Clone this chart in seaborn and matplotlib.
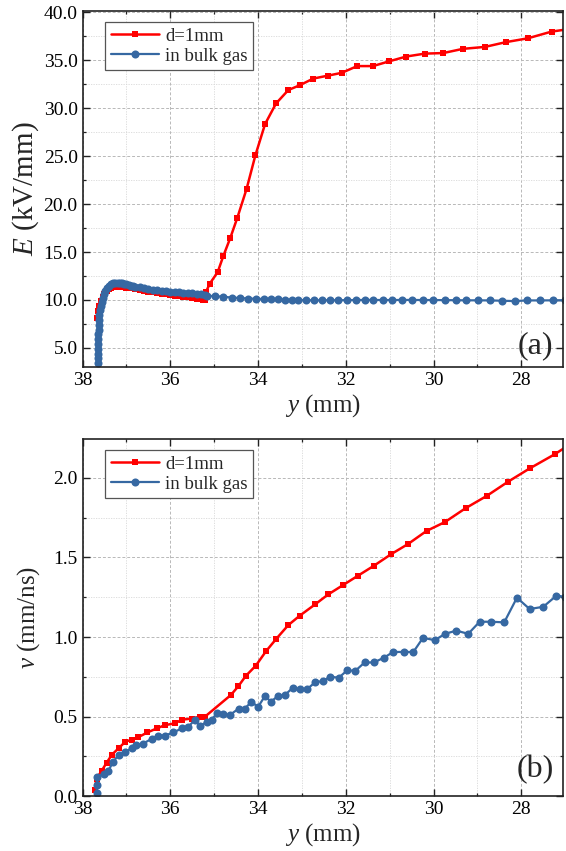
import matplotlib
matplotlib.use("Agg")
import matplotlib.pyplot as plt
import seaborn as sns
import numpy as np
from matplotlib.ticker import MultipleLocator, FormatStrFormatter

# ---------------- data (a): electric field ----------------
a_red_y = [37.68, 37.65, 37.62, 37.58, 37.54, 37.50, 37.45, 37.40, 37.35, 37.30,
           37.25, 37.20, 37.15, 37.10, 37.00, 36.90, 36.80, 36.70, 36.60, 36.50,
           36.40, 36.30, 36.20, 36.10, 36.00, 35.90, 35.80, 35.70, 35.60, 35.50,
           35.40, 35.30, 35.25, 35.22,
           35.19, 35.10, 34.92, 34.79, 34.63, 34.47, 34.26, 34.06, 33.84, 33.59,
           33.31, 33.05, 32.74, 32.41, 32.09, 31.74, 31.38, 31.01, 30.62, 30.20,
           29.78, 29.33, 28.83, 28.35, 27.85, 27.31, 26.85]
a_red_E = [8.1, 8.8, 9.4, 9.9, 10.3, 10.6, 10.9, 11.1, 11.25, 11.35,
           11.4, 11.42, 11.4, 11.36, 11.28, 11.2, 11.12, 11.04, 10.96, 10.88,
           10.8, 10.72, 10.65, 10.58, 10.52, 10.46, 10.4, 10.34, 10.28, 10.22,
           10.15, 10.08, 10.02, 9.95,
           10.8, 11.7, 12.9, 14.6, 16.5, 18.6, 21.6, 25.1, 28.35, 30.5,
           31.9, 32.4, 33.1, 33.4, 33.7, 34.4, 34.4, 34.9, 35.4, 35.7,
           35.76, 36.2, 36.4, 36.9, 37.3, 38.0, 38.3]

a_blue_y = [37.645, 37.645, 37.645, 37.643, 37.642, 37.64, 37.638, 37.635, 37.63, 37.625,
            37.615, 37.60, 37.585, 37.565, 37.54, 37.51, 37.48, 37.44, 37.40, 37.35,
            37.30, 37.25, 37.20, 37.15, 37.10, 37.05, 37.00, 36.95, 36.90, 36.85,
            36.80, 36.70, 36.60, 36.50, 36.40, 36.30, 36.20, 36.10, 36.00, 35.90,
            35.80, 35.70, 35.60, 35.50, 35.40, 35.30, 35.20,
            35.17, 34.98, 34.79, 34.60, 34.41, 34.22, 34.05, 33.87, 33.71, 33.55,
            33.39, 33.23, 33.08, 32.91, 32.73, 32.55, 32.36, 32.17, 31.98, 31.77,
            31.56, 31.38, 31.16, 30.94, 30.73, 30.48, 30.25, 30.01, 29.74, 29.48,
            29.25, 28.98, 28.72, 28.45, 28.15, 27.88, 27.58, 27.27, 27.01]
a_blue_E = [3.4, 3.9, 4.4, 4.9, 5.4, 5.9, 6.4, 6.9, 7.4, 7.9,
            8.4, 8.9, 9.35, 9.8, 10.2, 10.6, 10.9, 11.2, 11.45, 11.62,
            11.73, 11.78, 11.8, 11.78, 11.74, 11.68, 11.62, 11.56, 11.5, 11.45,
            11.4, 11.3, 11.22, 11.15, 11.08, 11.03, 10.98, 10.93, 10.88, 10.84,
            10.8, 10.76, 10.72, 10.68, 10.64, 10.6, 10.56,
            10.43, 10.4, 10.33, 10.25, 10.2, 10.15, 10.12, 10.1, 10.08, 10.05,
            10.02, 10.0, 9.98, 9.97, 9.96, 9.96, 9.97, 9.97, 9.98, 9.99,
            10.0, 10.0, 9.99, 9.99, 10.0, 10.0, 9.99, 9.99, 9.98, 9.97,
            9.96, 9.96, 9.95, 9.92, 9.88, 9.95, 9.95, 9.96, 9.97]

# ---------------- data (b): velocity ----------------
b_red_y = [37.72, 37.68, 37.56, 37.45, 37.33, 37.18, 37.03, 36.88, 36.73, 36.52,
           36.31, 36.12, 35.89, 35.74, 35.51, 35.32, 35.21,
           34.62, 34.45, 34.28, 34.05, 33.82, 33.58, 33.31, 33.05, 32.70, 32.40,
           32.06, 31.72, 31.36, 30.96, 30.58, 30.16, 29.74, 29.27, 28.79, 28.30,
           27.81, 27.24, 26.90]
b_red_v = [0.04, 0.11, 0.16, 0.21, 0.26, 0.30, 0.34, 0.355, 0.37, 0.40,
           0.425, 0.446, 0.457, 0.48, 0.487, 0.50, 0.499,
           0.635, 0.69, 0.755, 0.82, 0.91, 0.99, 1.075, 1.134, 1.205, 1.268,
           1.327, 1.386, 1.448, 1.522, 1.585, 1.667, 1.723, 1.81, 1.887, 1.977,
           2.06, 2.149, 2.21]

b_blue_y = [37.68, 37.67, 37.66, 37.52, 37.41, 37.30, 37.18, 37.03, 36.88, 36.77,
            36.62, 36.42, 36.27, 36.12, 35.93, 35.74, 35.59, 35.44, 35.32, 35.17,
            35.06, 34.94, 34.79, 34.64, 34.44, 34.30, 34.15, 34.00, 33.84, 33.71,
            33.54, 33.39, 33.21, 33.05, 32.89, 32.70, 32.53, 32.35, 32.16, 31.97,
            31.78, 31.57, 31.36, 31.13, 30.92, 30.68, 30.46, 30.24, 29.97, 29.74,
            29.48, 29.21, 28.95, 28.68, 28.39, 28.10, 27.81, 27.50, 27.20, 27.00]
b_blue_v = [0.02, 0.07, 0.12, 0.14, 0.16, 0.216, 0.258, 0.278, 0.30, 0.32,
            0.33, 0.36, 0.38, 0.38, 0.40, 0.425, 0.436, 0.478, 0.44, 0.467,
            0.478, 0.52, 0.516, 0.51, 0.55, 0.55, 0.593, 0.56, 0.63, 0.593,
            0.63, 0.635, 0.68, 0.67, 0.67, 0.715, 0.723, 0.75, 0.744, 0.79,
            0.788, 0.84, 0.84, 0.87, 0.906, 0.906, 0.906, 0.995, 0.98, 1.02,
            1.04, 1.02, 1.096, 1.096, 1.092, 1.247, 1.176, 1.19, 1.26, 1.253]

series_labels = ["d=1mm", "in bulk gas"]
x_ticks = [38, 36, 34, 32, 30, 28]

RED = "#FF0000"
BLUE = "#3668A2"

sns.set_style("ticks")
plt.rcParams["font.family"] = "Liberation Serif"
plt.rcParams["mathtext.fontset"] = "custom"
plt.rcParams["mathtext.it"] = "Liberation Serif:italic"
plt.rcParams["mathtext.rm"] = "Liberation Serif"

fig = plt.figure(figsize=(5.66, 8.51), dpi=100)
ax1 = fig.add_axes([0.1458, 0.5687, 0.8489, 0.4184])
ax2 = fig.add_axes([0.1458, 0.0646, 0.8489, 0.4195])


def style_axis(ax):
    ax.set_xlim(38.0, 27.05)
    ax.set_xticks(x_ticks)
    ax.xaxis.set_minor_locator(MultipleLocator(1))
    ax.grid(True, which="major", color="#b8b8b8", linestyle=(0, (3, 2)), linewidth=0.7)
    ax.grid(True, which="minor", color="#d8d8d8", linestyle=(0, (1.5, 1.5)), linewidth=0.6)
    ax.set_axisbelow(True)
    ax.tick_params(which="both", direction="in", top=True, right=True,
                   colors="#222222", labelsize=14, labelcolor="black")
    ax.tick_params(which="major", length=5, width=1.0)
    ax.tick_params(which="minor", length=2.5, width=0.9)
    for s in ax.spines.values():
        s.set_linewidth(1.2)
        s.set_color("#222222")
        s.set_visible(True)
    ax.set_xlabel("$y$ (mm)", fontsize=18, labelpad=2)


# (a)
sns.lineplot(x=a_red_y, y=a_red_E, ax=ax1, color=RED, marker="s", markersize=5,
             markeredgewidth=0, linewidth=1.8, sort=False, estimator=None,
             label=series_labels[0])
sns.lineplot(x=a_blue_y, y=a_blue_E, ax=ax1, color=BLUE, marker="o", markersize=5.8,
             markeredgewidth=0, linewidth=1.6, sort=False, estimator=None,
             label=series_labels[1])
style_axis(ax1)
ax1.set_ylim(3.0, 40.15)
ax1.yaxis.set_major_locator(MultipleLocator(5))
ax1.yaxis.set_minor_locator(MultipleLocator(2.5))
ax1.yaxis.set_major_formatter(FormatStrFormatter("%.1f"))
ax1.set_ylabel("$E$ (kV/mm)", fontsize=21, labelpad=2)
ax1.text(0.943, 0.06, "(a)", transform=ax1.transAxes, fontsize=23,
         ha="center", va="center")

# (b)
sns.lineplot(x=b_red_y, y=b_red_v, ax=ax2, color=RED, marker="s", markersize=5,
             markeredgewidth=0, linewidth=1.8, sort=False, estimator=None,
             label=series_labels[0])
sns.lineplot(x=b_blue_y, y=b_blue_v, ax=ax2, color=BLUE, marker="o", markersize=5.8,
             markeredgewidth=0, linewidth=1.6, sort=False, estimator=None,
             label=series_labels[1])
style_axis(ax2)
ax2.set_ylim(0.0, 2.245)
ax2.yaxis.set_major_locator(MultipleLocator(0.5))
ax2.yaxis.set_minor_locator(MultipleLocator(0.25))
ax2.yaxis.set_major_formatter(FormatStrFormatter("%.1f"))
ax2.set_ylabel("$v$ (mm/ns)", fontsize=18, labelpad=8)
ax2.text(0.943, 0.073, "(b)", transform=ax2.transAxes, fontsize=23,
         ha="center", va="center")

for ax in (ax1, ax2):
    leg = ax.legend(loc="upper left", bbox_to_anchor=(0.047, 0.969), borderaxespad=0,
                    fontsize=13.5, frameon=True, fancybox=False, framealpha=1,
                    edgecolor="#555555", handlelength=2.6, handletextpad=0.3,
                    borderpad=0.3, labelspacing=0.15, numpoints=1)
    leg.get_frame().set_linewidth(0.9)

fig.savefig("out.png", dpi=100)
